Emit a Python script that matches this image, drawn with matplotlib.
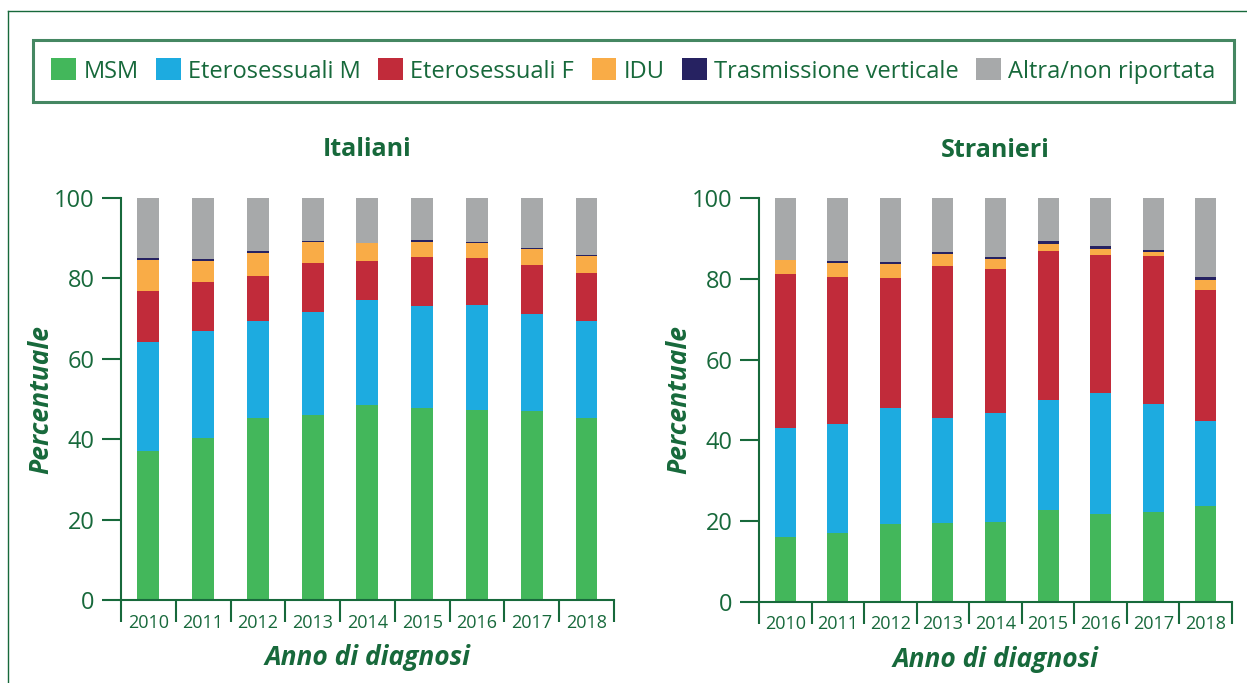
import matplotlib.pyplot as plt
from matplotlib.lines import Line2D
import numpy as np

plt.rcParams['font.family'] = ['Open Sans', 'DejaVu Sans']

years = ['2010', '2011', '2012', '2013', '2014', '2015', '2016', '2017', '2018']
categories = ['MSM', 'Eterosessuali M', 'Eterosessuali F', 'IDU',
              'Trasmissione verticale', 'Altra/non riportata']

# Italiani (%)
ita_msm = [37.1, 40.2, 45.3, 45.9, 48.5, 47.8, 47.3, 46.9, 45.4]
ita_etero_m = [27.0, 26.7, 24.1, 25.7, 26.1, 25.3, 26.1, 24.2, 24.0]
ita_etero_f = [12.8, 12.3, 11.3, 12.3, 9.8, 12.3, 11.7, 12.3, 12.0]
ita_idu = [7.7, 5.2, 5.7, 5.2, 4.3, 3.7, 3.8, 4.0, 4.2]
ita_vert = [0.4, 0.5, 0.3, 0.2, 0.1, 0.4, 0.1, 0.1, 0.1]

# Stranieri (%)
str_msm = [15.9, 16.9, 19.2, 19.4, 19.7, 22.7, 21.7, 22.2, 23.7]
str_etero_m = [27.1, 27.1, 28.7, 26.1, 27.0, 27.3, 30.0, 26.8, 21.0]
str_etero_f = [38.3, 36.5, 32.4, 37.8, 35.8, 37.0, 34.3, 36.7, 32.6]
str_idu = [3.4, 3.5, 3.5, 2.9, 2.6, 1.8, 1.5, 1.0, 2.5]
str_vert = [0.1, 0.6, 0.4, 0.5, 0.5, 0.6, 0.6, 0.5, 0.6]

colors = ['#43B75B', '#1DABE0', '#C12B3A', '#F9AC47', '#262261', '#A7A9AA']
dark_green = '#17693B'


def with_rest(*series):
    arr = np.array(series, dtype=float)
    rest = 100 - arr.sum(axis=0)
    return list(arr) + [rest]


def draw_panel(ax, stacks, title):
    x = np.arange(len(years))
    bottom = np.zeros(len(years))
    for vals, col, lab in zip(stacks, colors, categories):
        ax.bar(x, vals, 0.4, bottom=bottom, color=col, label=lab, linewidth=0)
        bottom += vals
    ax.set_xlim(-0.5, len(years) - 0.5)
    ax.set_ylim(0, 100)
    ax.set_yticks(range(0, 101, 20))
    ax.set_xticks(x)
    ax.set_xticklabels(years)
    ax.set_xticks(np.arange(-0.5, len(years)), minor=True)
    for s in ['top', 'right']:
        ax.spines[s].set_visible(False)
    for s in ['left', 'bottom']:
        ax.spines[s].set_color(dark_green)
        ax.spines[s].set_linewidth(1.5)
    ax.tick_params(axis='y', length=14, width=1.5, color=dark_green,
                   labelcolor=dark_green, labelsize=17, pad=5)
    ax.tick_params(axis='x', which='major', length=0, labelcolor=dark_green,
                   labelsize=13, pad=10)
    ax.tick_params(axis='x', which='minor', length=16, width=1.5,
                   color=dark_green)
    ax.set_title(title, fontsize=18, fontweight='bold', color=dark_green, pad=30)
    ax.set_ylabel('Percentuale', fontsize=19, fontweight='bold',
                  fontstyle='italic', color=dark_green, labelpad=0)
    ax.set_xlabel('Anno di diagnosi', fontsize=19, fontweight='bold',
                  fontstyle='italic', color=dark_green, labelpad=9)


fig = plt.figure(figsize=(12.47, 6.83), dpi=100)
ax1 = fig.add_axes([0.0970, 0.1215, 0.3953, 0.5886])
ax2 = fig.add_axes([0.6087, 0.1193, 0.3793, 0.5901])

draw_panel(ax1, with_rest(ita_msm, ita_etero_m, ita_etero_f, ita_idu, ita_vert), 'Italiani')
draw_panel(ax2, with_rest(str_msm, str_etero_m, str_etero_f, str_idu, str_vert), 'Stranieri')

handles, labels = ax1.get_legend_handles_labels()
leg = fig.legend(handles, labels, ncol=6, loc='center',
                 bbox_to_anchor=(0.0265, 0.8507, 0.9631, 0.0907), mode='expand',
                 fontsize=17, labelcolor=dark_green, fancybox=False,
                 handlelength=1.05, handleheight=1.05, handletextpad=0.3,
                 columnspacing=0.8, borderpad=0.78, borderaxespad=0)
leg.get_frame().set_edgecolor(dark_green)
leg.get_frame().set_linewidth(2.2)

# outer frame (top and left)
fig.add_artist(Line2D([0.0064, 1.0], [0.9839, 0.9839], transform=fig.transFigure,
                      color=dark_green, linewidth=1))
fig.add_artist(Line2D([0.0064, 0.0064], [0.0, 0.9839], transform=fig.transFigure,
                      color=dark_green, linewidth=1))

fig.savefig('out.png', dpi=100)
plt.close(fig)
